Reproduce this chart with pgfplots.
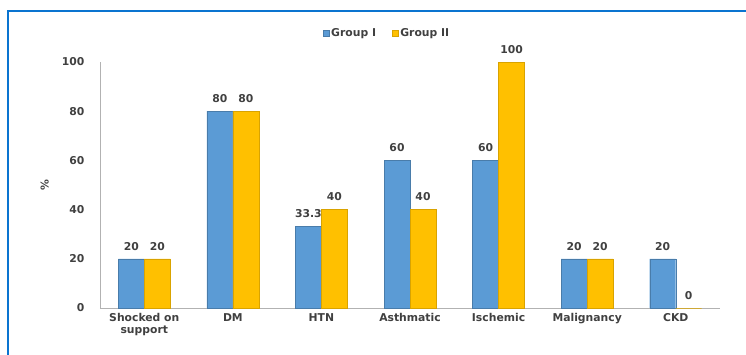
\documentclass[border=0pt]{standalone}
\usepackage{pgfplots}
\pgfplotsset{compat=1.18}
\usepackage{fontspec}
\setmainfont{DejaVu Sans}
\definecolor{gblue}{HTML}{5B9BD5}
\definecolor{gyellow}{HTML}{FFC000}
\definecolor{txt}{HTML}{404040}
\definecolor{frame}{HTML}{0A74D0}
\newcommand{\lab}{\fontsize{10.8}{11.5}\selectfont\bfseries}
\begin{document}
\begin{tikzpicture}
\begin{axis}[
  name=main,
  at={(0pt,0pt)}, anchor=south west,
  scale only axis, width=620pt, height=246pt,
  ymin=0, ymax=100,
  xmin=-0.5, xmax=6.5,
  ybar=0pt, bar width=26pt,
  xtick=data,
  xticklabels={{Shocked on\\support},DM,HTN,Asthmatic,Ischemic,Malignancy,CKD},
  xticklabel style={align=center, font=\lab, text=txt, yshift=-2pt},
  ytick={0,20,...,100},
  yticklabel style={font=\lab, text=txt, xshift=-12pt},
  /pgf/number format/assume math mode=true,
  major tick length=0pt,
  axis x line*=bottom, axis y line*=left,
  axis line style={draw=gray!60, line width=0.8pt},
  x axis line style={-},
  y axis line style={-},
  ylabel={\%},
  ylabel style={font=\lab, text=txt},
  every axis y label/.append style={at={(ticklabel cs:0.5)}, anchor=center, yshift=14pt},
  nodes near coords,
  every node near coord/.append style={font=\lab, text=txt, anchor=south, yshift=5pt},
  point meta=explicit symbolic,
  legend style={at={(0.463,1.118)}, anchor=center, draw=none, legend columns=2,
    font=\lab, text=txt, fill=none,
    /tikz/every even column/.append style={column sep=14pt}},
  legend image code/.code={\fill[#1] (2pt,-3pt) rectangle (8pt,3pt);},
  clip=false,
]
\addplot[fill=gblue, draw=gblue!80!black, line width=0.3pt] coordinates {
  (0,20) [20] (1,80) [80] (2,33.3) [33.3] (3,60) [60] (4,60) [60] (5,20) [20] (6,20) [20]};
\addplot[fill=gyellow, draw=gyellow!85!black, line width=0.3pt] coordinates {
  (0,20) [20] (1,80) [80] (2,40) [40] (3,40) [40] (4,100) [100] (5,20) [20] (6,0) [0]};
\legend{Group I, Group II}
\end{axis}
% page and frame, placed relative to the plot area
\pgfresetboundingbox
\path[use as bounding box] (main.south west) ++(-100pt,-46pt) rectangle ++(746pt,354pt);
\begin{scope}
\clip (main.south west) ++(-100pt,-46pt) rectangle ++(746pt,354pt);
\draw[frame, line width=2.5pt] (main.south west) ++(-92pt,-60pt) -- ++(0pt,357pt) -- ++(800pt,0pt);
\end{scope}
\end{tikzpicture}
\end{document}
